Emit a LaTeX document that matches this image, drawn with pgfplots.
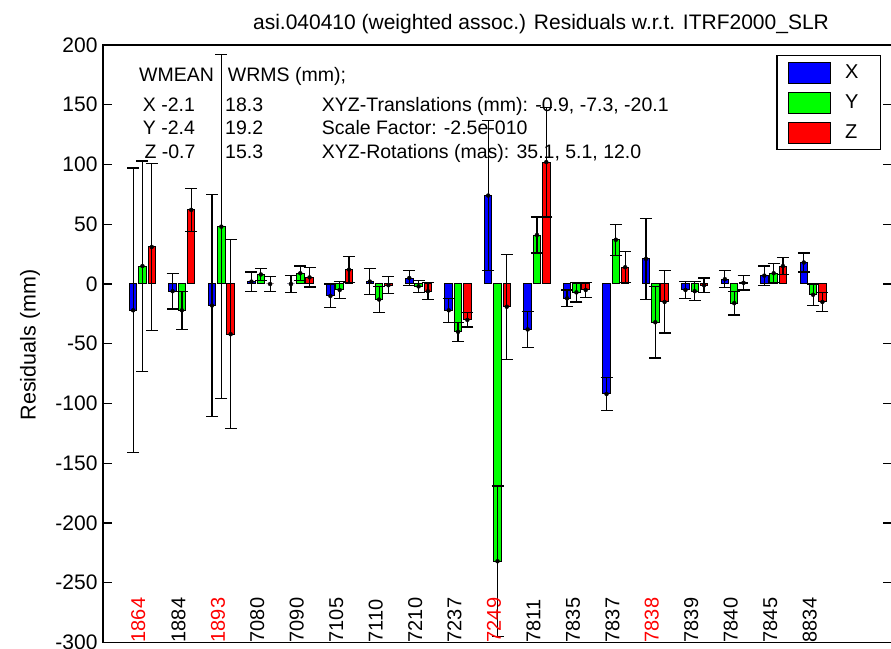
\documentclass[border=0pt]{standalone}
\usepackage{fontspec}
\setmainfont{Liberation Sans}
\usepackage{pgfplots}
\pgfplotsset{compat=1.18}
\pgfplotsset{
  errb/.style={only marks, mark=none, forget plot,
    error bars/.cd, y dir=both, y explicit,
    error bar style={black, line width=1.2pt},
    error mark options={black, line width=1.2pt, mark size=6pt, rotate=90}},
  barlegend/.style={legend image code/.code={\draw[##1, line width=1pt] (0pt,-10.5pt) rectangle (42pt,10.5pt);}}
}
\newcommand{\annfont}{\fontsize{19.5}{23}\selectfont}
\newcommand{\lblfont}{\fontsize{20}{24}\selectfont}
\begin{document}
\begin{tikzpicture}
\begin{axis}[
  at={(0,0)}, anchor=south west,
  scale only axis, width=789pt, height=597.5pt,
  xmin=0, xmax=20, ymin=-300, ymax=200,
  xtick=\empty,
  ytick={-300,-250,...,200},
  ytick pos=both,
  tick align=inside,
  major tick length=9pt,
  tick style={black, line width=1.2pt},
  axis line style={line width=1.2pt},
  yticklabel style={font=\fontsize{21}{25}\selectfont, xshift=-2pt},
  /pgf/number format/assume math mode=true,
  legend style={at={(0.986,0.983)}, anchor=north east, draw=black, line width=1.2pt,
    font=\lblfont, row sep=8pt, column sep=12pt, inner xsep=11pt, inner ysep=6pt},
  legend cell align=left,
]
% bars
\addplot[ybar, bar width=0.19, bar shift=-0.236, fill=blue, draw=black, line width=1pt, barlegend]
coordinates {(1,-22) (2,-6) (3,-18) (4,2) (5,0) (6,-10) (7,2) (8,5) (9,-22) (10,74) (11,-38) (12,-12) (13,-92) (14,21) (15,-5) (16,4) (17,7) (18,18)};
\addlegendentry{X\hspace*{9pt}}
\addplot[ybar, bar width=0.19, bar shift=0, fill=green, draw=black, line width=1pt, barlegend]
coordinates {(1,15) (2,-22) (3,48) (4,8) (5,9) (6,-5) (7,-13) (8,-2) (9,-40) (10,-232) (11,41) (12,-7) (13,37) (14,-32) (15,-6) (16,-16) (17,9) (18,-9)};
\addlegendentry{Y\hspace*{9pt}}
\addplot[ybar, bar width=0.19, bar shift=0.236, fill=red, draw=black, line width=1pt, barlegend]
coordinates {(1,31) (2,62) (3,-42) (4,0) (5,5.5) (6,12) (7,-1) (8,-6) (9,-30) (10,-19) (11,102) (12,-5) (13,14) (14,-15) (15,-1) (16,1) (17,15) (18,-15)};
\addlegendentry{Z\hspace*{9pt}}
% error bars (x positions shifted to the bar centres)
\addplot[errb] coordinates {
(0.764,-22) +- (0,119)
(1.764,-6) +- (0,15)
(2.764,-18) +- (0,93)
(3.764,2) +- (0,8)
(4.764,0) +- (0,7)
(5.764,-10) +- (0,10)
(6.764,2) +- (0,11)
(7.764,5) +- (0,6)
(8.764,-22) +- (0,10)
(9.764,74) +- (0,63)
(10.764,-38) +- (0,15)
(11.764,-12) +- (0,7)
(12.764,-92) +- (0,14)
(13.764,21) +- (0,34)
(14.764,-5) +- (0,7)
(15.764,4) +- (0,7)
(16.764,7) +- (0,8)
(17.764,18) +- (0,8)
};
\addplot[errb] coordinates {
(1,15) +- (0,88)
(2,-22) +- (0,16)
(3,48) +- (0,144)
(4,8) +- (0,5)
(5,9) +- (0,6)
(6,-5) +- (0,7)
(7,-13) +- (0,11)
(8,-2) +- (0,5)
(9,-40) +- (0,8)
(10,-232) +- (0,63)
(11,41) +- (0,15)
(12,-7) +- (0,8)
(13,37) +- (0,13)
(14,-32) +- (0,30)
(15,-6) +- (0,8)
(16,-16) +- (0,10)
(17,9) +- (0,8)
(18,-9) +- (0,9)
};
\addplot[errb] coordinates {
(1.236,31) +- (0,70)
(2.236,62) +- (0,18)
(3.236,-42) +- (0,79)
(4.236,0) +- (0,6)
(5.236,5.5) +- (0,8)
(6.236,12) +- (0,11)
(7.236,-1) +- (0,7)
(8.236,-6) +- (0,7)
(9.236,-30) +- (0,6)
(10.236,-19) +- (0,44)
(11.236,102) +- (0,46)
(12.236,-5) +- (0,6)
(13.236,14) +- (0,13)
(14.236,-15) +- (0,26)
(15.236,-1) +- (0,6)
(16.236,1) +- (0,6)
(17.236,15) +- (0,7)
(18.236,-15) +- (0,8)
};
\begin{scope}[every node/.style={rotate=90, anchor=west, inner sep=0pt, font=\lblfont, yshift=1.5pt}]
\node[red] at (axis cs:0.93,-300) {1864};
\node at (axis cs:1.95,-300) {1884};
\node[red] at (axis cs:2.95,-300) {1893};
\node at (axis cs:3.95,-300) {7080};
\node at (axis cs:4.95,-300) {7090};
\node at (axis cs:5.95,-300) {7105};
\node at (axis cs:6.95,-300) {7110};
\node at (axis cs:7.95,-300) {7210};
\node at (axis cs:8.95,-300) {7237};
\node[red] at (axis cs:9.95,-300) {7249};
\node at (axis cs:10.95,-300) {7811};
\node at (axis cs:11.95,-300) {7835};
\node at (axis cs:12.95,-300) {7837};
\node[red] at (axis cs:13.95,-300) {7838};
\node at (axis cs:14.95,-300) {7839};
\node at (axis cs:15.95,-300) {7840};
\node at (axis cs:16.95,-300) {7845};
\node at (axis cs:17.95,-300) {8834};
\end{scope}
\end{axis}
\begin{scope}[every node/.style={anchor=base west, inner sep=0pt, font=\annfont}]
\node at (36pt,560.8pt) {WMEAN};
\node at (124.7pt,560.8pt) {WRMS (mm);};
\node at (39.7pt,530.8pt) {X -2.1};
\node at (39.7pt,507.5pt) {Y -2.4};
\node at (41.3pt,484.2pt) {Z -0.7};
\node at (122pt,530.8pt) {18.3};
\node at (122pt,507.5pt) {19.2};
\node at (122pt,484.2pt) {15.3};
\node at (218.7pt,530.8pt) {XYZ-Translations (mm): -0.9, -7.3, -20.1};
\node at (218.7pt,507.5pt) {Scale Factor: -2.5e-010};
\node at (218.7pt,484.2pt) {XYZ-Rotations (mas): 35.1, 5.1, 12.0};
\end{scope}
\node[anchor=base, inner sep=0pt, font=\fontsize{21}{25}\selectfont] at (438pt,612.5pt) {asi.040410 (weighted assoc.) Residuals w.r.t. ITRF2000\_SLR};
\node[rotate=90, inner sep=0pt, font=\fontsize{21.5}{25}\selectfont] at (-73pt,297.5pt) {Residuals (mm)};
\pgfresetboundingbox
\useasboundingbox (-103pt,-5.5pt) rectangle (788pt,642.5pt);
\end{tikzpicture}
\end{document}
